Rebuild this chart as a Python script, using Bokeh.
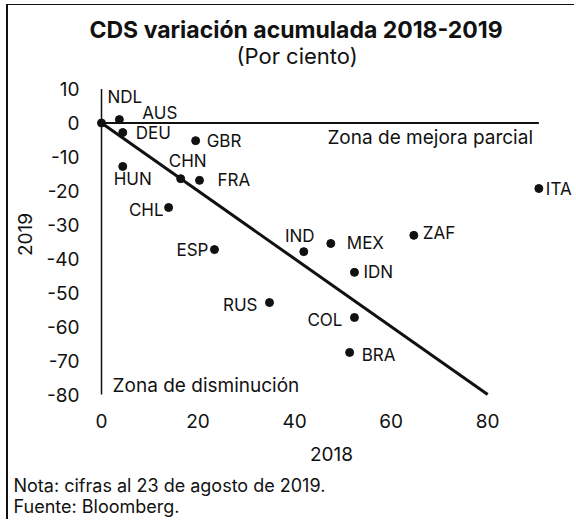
from bokeh.plotting import figure
from bokeh.models import Range1d, Label, LabelSet, ColumnDataSource, FixedTicker, Title
from bokeh.core.properties import value
from bokeh.embed import file_html
from bokeh.resources import INLINE

# ---- data ----
countries = ["NDL", "AUS", "DEU", "GBR", "HUN", "CHN", "FRA", "CHL", "ESP",
             "RUS", "IND", "MEX", "ZAF", "IDN", "COL", "BRA", "ITA"]
cds_2018 = [0.0, 3.7, 4.4, 19.5, 4.4, 16.4, 20.3, 13.9, 23.4,
            34.8, 41.9, 47.5, 64.7, 52.4, 52.4, 51.4, 90.6]
cds_2019 = [0.0, 1.0, -2.8, -5.2, -12.8, -16.4, -16.9, -24.9, -37.3,
            -52.9, -37.9, -35.5, -33.1, -44.0, -57.3, -67.6, -19.3]
x_ticks = [0, 20, 40, 60, 80]
y_ticks = [10, 0, -10, -20, -30, -40, -50, -60, -70, -80]
y_tick_labels = {t: str(t) for t in y_ticks}

# ---- label styling (offsets in pixels) ----
lab_dx = [6, 23, 13, 11, 10, 7, 18, -5, -6, -12, -4, 16, 9, 9, -12, 12, 7]
lab_dy = [26, 7, 0, 0, -13, 18, 0, -2, 0, -2, 16, 0, 2, 0, -3, -3, 0]
lab_al = ["left", "left", "left", "left", "center", "center", "left", "right", "right",
          "right", "center", "left", "left", "left", "right", "left", "left"]

FONT = "Inter"
INK = "#111111"

src = ColumnDataSource(dict(x=cds_2018, y=cds_2019, name=countries,
                            dx=lab_dx, dy=lab_dy, al=lab_al))

p = figure(width=568, height=515, output_backend="svg", toolbar_location=None,
           x_range=Range1d(-3.11, 98.4), y_range=Range1d(-82.35, 16.65),
           min_border_left=78, min_border_right=0, min_border_top=61,
           min_border_bottom=118, outline_line_color=None,
           background_fill_color="white", border_fill_color="white",
           styles={"margin-left": "6px", "margin-top": "4px",
                   "border-left": "2px solid #111", "border-top": "1px solid #111"})
p.grid.visible = False

for ax in (p.xaxis[0], p.yaxis[0]):
    ax.axis_line_color = None
    ax.major_tick_line_color = None
    ax.minor_tick_line_color = None
    ax.major_label_text_font = FONT
    ax.major_label_text_font_size = "19px"
    ax.major_label_text_color = INK
    ax.axis_label_text_font = FONT
    ax.axis_label_text_font_size = "19px"
    ax.axis_label_text_font_style = "normal"
    ax.axis_label_text_color = INK

p.xaxis.ticker = FixedTicker(ticks=x_ticks)
p.yaxis.ticker = FixedTicker(ticks=y_ticks)
p.yaxis.major_label_overrides = y_tick_labels
p.xaxis.axis_label = "2018"
p.yaxis.axis_label = "2019"
p.xaxis.major_label_standoff = 5
p.xaxis.axis_label_standoff = 16
p.yaxis.major_label_standoff = 1
p.yaxis.axis_label_standoff = 12

# reference lines
p.line([x_ticks[0], x_ticks[0]], [y_ticks[0], y_ticks[-1]], line_color=INK, line_width=1.5)
p.line([0, max(cds_2018)], [0, 0], line_color=INK, line_width=2)
p.line([x_ticks[0], x_ticks[-1]], [-x_ticks[0], -x_ticks[-1]], line_color=INK, line_width=3)

p.scatter("x", "y", source=src, size=8, color=INK)

p.add_layout(LabelSet(x="x", y="y", text="name", source=src, x_offset="dx", y_offset="dy",
                      text_align="al", text_baseline="middle", text_font=value(FONT),
                      text_font_size="17px", text_color=INK))

p.add_layout(Label(x=46.8, y=-4.3, text="Zona de mejora parcial", text_align="left",
                   text_baseline="middle", text_font=FONT, text_font_size="19px",
                   text_color=INK))
p.add_layout(Label(x=2.3, y=-77.3, text="Zona de disminución", text_align="left",
                   text_baseline="middle", text_font=FONT, text_font_size="19px",
                   text_color=INK))

# titles (subtitle added first: it sits closest to the plot)
p.add_layout(Title(text="(Por ciento)", align="left", offset=150, standoff=-5,
                   text_font=FONT, text_font_size="22px", text_font_style="normal",
                   text_color=INK), "above")
p.add_layout(Title(text="CDS variación acumulada 2018-2019", align="left", offset=3,
                   standoff=0, text_font=FONT, text_font_size="23px",
                   text_font_style="bold", text_color=INK), "above")

# notes below the x axis
p.add_layout(Title(text="Nota: cifras al 23 de agosto de 2019.", align="left", offset=-73,
                   standoff=18, text_font=FONT, text_font_size="18px",
                   text_font_style="normal", text_color=INK), "below")
p.add_layout(Title(text="Fuente: Bloomberg.", align="left", offset=-73,
                   standoff=-19, vertical_align="middle", text_font=FONT,
                   text_font_size="18px", text_font_style="normal", text_color=INK), "below")

open("out.html", "w").write(file_html(p, INLINE))
